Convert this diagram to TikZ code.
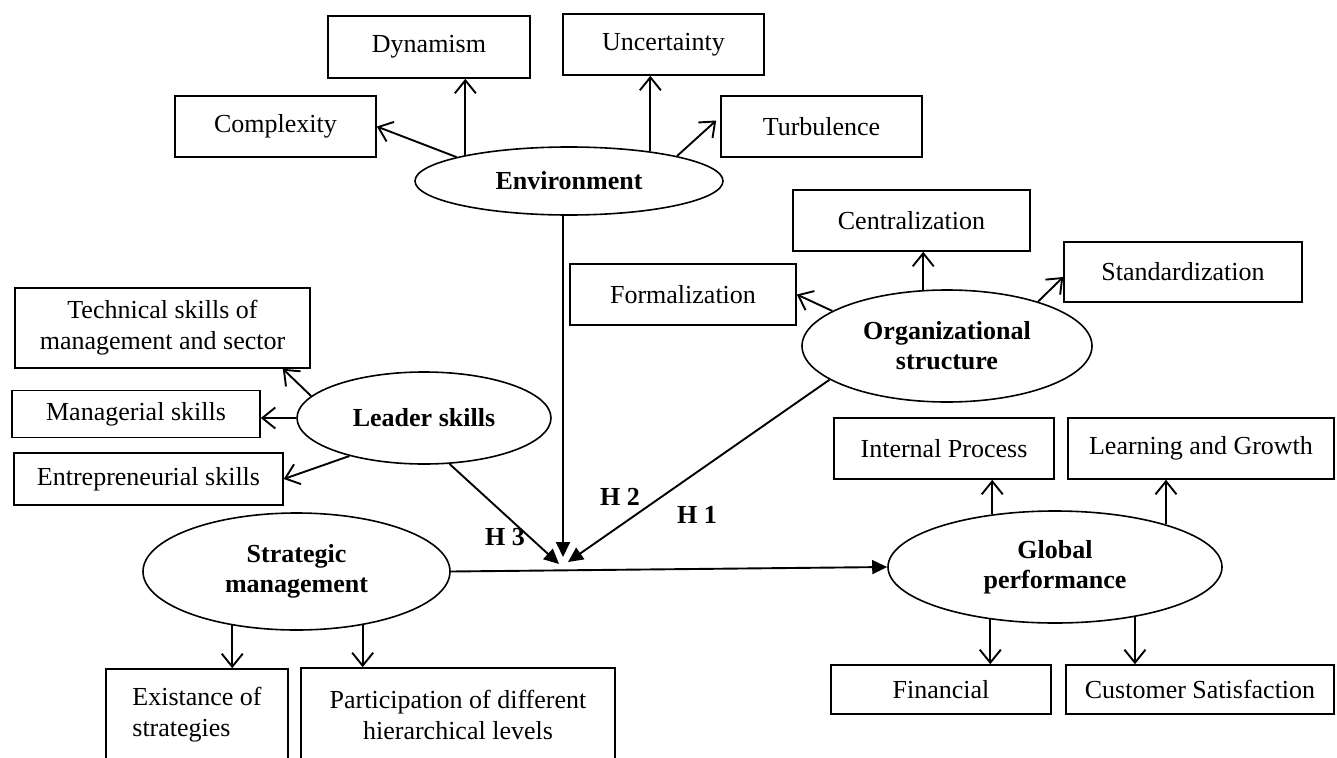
\documentclass[tikz,border=0pt]{standalone}
\usepackage{fontspec}
\setmainfont{Liberation Serif}
\usetikzlibrary{arrows.meta,shapes.geometric}
\begin{document}
\begin{tikzpicture}[x=1pt,y=-1pt,
  every node/.style={font=\fontsize{26}{31}\selectfont},
  box/.style={draw, line width=1.6pt, rectangle, inner sep=0pt, align=center},
  oval/.style={draw, line width=1.6pt, ellipse, inner sep=0pt, align=center, font=\fontsize{26}{30}\selectfont\bfseries},
  arr/.style={line width=1.9pt, -{Straight Barb[length=13pt,width=21pt,line width=1.9pt]}},
  harr/.style={line width=1.9pt, -{Triangle[length=15pt,width=14pt]}},
  hlab/.style={font=\fontsize{26}{30}\selectfont\bfseries, inner sep=0pt}
]
\useasboundingbox (0,0) rectangle (1337,757);
\begin{scope}
\clip (0,0) rectangle (1337,757);
% boxes
\node[box, minimum width=201pt, minimum height=61pt] (cmplx) at (275.5,126.5) {Complexity};
\node[box, minimum width=202pt, minimum height=62pt] (dyn) at (429,47) {Dynamism};
\node[box, minimum width=201pt, minimum height=61pt] (unc) at (663.5,44.5) {Uncertainty};
\node[box, minimum width=201pt, minimum height=61pt] (turb) at (821.5,126.5) {Turbulence};
\node[box, minimum width=237pt, minimum height=61pt] (cent) at (911.5,220.5) {Centralization};
\node[box, minimum width=238pt, minimum height=60pt] (stand) at (1183,272) {Standardization};
\node[box, minimum width=226pt, minimum height=61pt] (form) at (683,294.5) {Formalization};
\node[box, minimum width=295pt, minimum height=80pt] (tech) at (162.5,328) {Technical skills of\\management and sector};
\node[box, minimum width=248pt, minimum height=47pt] (manag) at (136,414) {Managerial skills};
\node[box, minimum width=269pt, minimum height=52pt] (entre) at (148.5,479) {Entrepreneurial skills};
\node[box, minimum width=220pt, minimum height=61pt] (intp) at (944,448.5) {Internal Process};
\node[box, minimum width=266pt, minimum height=61pt] (learn) at (1201,448.5) {Learning and Growth};
\node[box, minimum width=220pt, minimum height=49pt] (fin) at (941,689.5) {Financial};
\node[box, minimum width=268pt, minimum height=49pt] (cust) at (1200,689.5) {Customer Satisfaction};
\node[box, minimum width=182pt, minimum height=92pt, align=left] (exist) at (197,715) {Existance of\\strategies};
\node[box, minimum width=314pt, minimum height=94pt] (part) at (458,715) {Participation of different\\hierarchical levels};
% ellipses
\node[oval, minimum width=308pt, minimum height=68pt] (env) at (569,181) {Environment};
\node[oval, minimum width=290pt, minimum height=112pt] (org) at (947,346) {Organizational\\structure};
\node[oval, minimum width=254pt, minimum height=92pt] (lead) at (424,418) {Leader skills};
\node[oval, minimum width=307pt, minimum height=117pt] (strat) at (296.5,571.5) {Strategic\\management};
\node[oval, minimum width=334pt, minimum height=112pt] (glob) at (1055,567) {Global\\performance};
% hub coordinates
\coordinate (tipE) at (563,557);
\coordinate (tipL) at (559,564);
\coordinate (tipO) at (568,562);
% environment arrows
\draw[arr] (env.168.8) -- (cmplx.east);
\draw[arr] (env.166.2) -- (env.166.2 |- dyn.south);
\draw[arr] (env.20.9) -- (env.20.9 |- unc.south);
\draw[arr] (env.13.4) -- ([shift={(-4,-6)}]turb.west);
% organizational structure arrows
\draw[arr] (org.163.5) -- (form.east);
\draw[arr] (org.113.5) -- (org.113.5 |- cent.south);
\draw[arr] (org.26.8) -- ([yshift=-5pt]stand.west);
% leader skills arrows
\draw[arr] (lead.169.7) -- ([xshift=-28pt]tech.south east);
\draw[arr] (lead.west) -- (lead.west -| manag.east);
\draw[arr] (lead.207.4) -- (entre.east);
% global performance arrows
\draw[arr] (glob.140) -- (glob.140 |- intp.south);
\draw[arr] (glob.21.6) -- (glob.21.6 |- learn.south);
\draw[arr] (glob.219.5) -- (glob.219.5 |- fin.north);
\draw[arr] (glob.328) -- (glob.328 |- cust.north);
% strategic management arrows
\draw[arr] (strat.220) -- (strat.220 |- exist.north);
\draw[arr] (strat.321.1) -- (strat.321.1 |- part.north);
% hypotheses
\draw[harr] (env.south -| tipE) -- (tipE);
\draw[harr] (lead.-61.3) -- (tipL);
\draw[harr] (org.196.2) -- (tipO);
\draw[harr] (strat.east) -- (glob.west);
\node[hlab] (h3) at (505,537) {H 3};
\node[hlab] (h2) at (620,497) {H 2};
\node[hlab] (h1) at (697,515) {H 1};
\end{scope}
\end{tikzpicture}
\end{document}
